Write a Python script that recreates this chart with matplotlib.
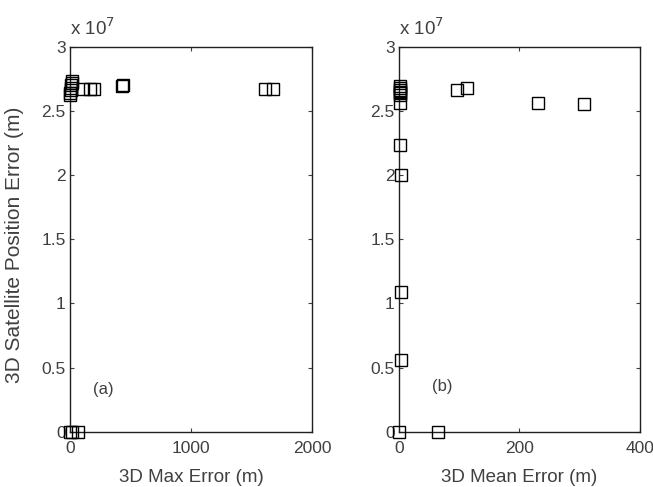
import numpy as np
import matplotlib
matplotlib.use('Agg')
from matplotlib import pyplot as plt
from matplotlib.ticker import FuncFormatter

# === DATA (y values in metres) ===
max_err = [0, 3, 6, 9, 12, 15, 18, 107, 165, 198, 430, 440, 1611, 1678, 0, 20, 70]
max_pos = [2.62e7, 2.64e7, 2.66e7, 2.68e7, 2.70e7, 2.72e7, 2.73e7, 2.67e7, 2.67e7, 2.67e7,
           2.69e7, 2.70e7, 2.67e7, 2.67e7, 0.0, 0.0, 0.0]

mean_err = [2, 2, 2, 2, 2, 2, 2, 2, 3, 3, 4, 0, 64, 96, 113, 230, 307]
mean_pos = [2.56e7, 2.62e7, 2.635e7, 2.65e7, 2.665e7, 2.68e7, 2.695e7, 2.23e7, 2.00e7, 1.09e7,
            0.56e7, 0.0, 0.0, 2.66e7, 2.68e7, 2.56e7, 2.55e7]

x_labels = ['3D Max Error (m)', '3D Mean Error (m)']
x_lims = [(0, 2000), (0, 400)]
x_ticks = [[0, 1000, 2000], [0, 200, 400]]
panel_tags = ['(a)', '(b)']
tag_pos = [(273, 0.33e7), (72, 0.35e7)]

plt.rcParams['font.family'] = ['Liberation Sans', 'DejaVu Sans']
txt_color = '#404040'

fig = plt.figure(figsize=(6.53, 4.87), dpi=100)
ax_a = fig.add_axes([0.1072, 0.1136, 0.3706, 0.7906])
ax_b = fig.add_axes([0.611, 0.1136, 0.369, 0.7906])

series = [(max_err, max_pos), (mean_err, mean_pos)]
for i, ax in enumerate([ax_a, ax_b]):
    xs, ys = series[i]
    ax.plot(xs, ys, linestyle='none', marker='s', markersize=8.5,
            markerfacecolor='none', markeredgecolor='black', markeredgewidth=1.0,
            clip_on=False, zorder=3)

    ax.set_xlim(*x_lims[i])
    ax.set_ylim(0, 3e7)
    ax.set_xticks(x_ticks[i])
    ax.set_yticks(np.arange(0, 3.01e7, 0.5e7))
    ax.yaxis.set_major_formatter(FuncFormatter(lambda v, p: '%g' % (v / 1e7)))

    ax.tick_params(direction='in', top=True, right=True, length=3, width=0.8,
                   labelsize=12.5, colors=txt_color)
    ax.tick_params(axis='x', pad=7)
    ax.tick_params(axis='y', pad=3)
    for sp in ax.spines.values():
        sp.set_linewidth(1.0)
        sp.set_color('#202020')

    ax.set_xlabel(x_labels[i], fontsize=13.5, color=txt_color, labelpad=9)
    ax.text(0.0, 1.02, r'x 10$^7$', transform=ax.transAxes, fontsize=13.5,
            color=txt_color, ha='left', va='bottom')
    ax.text(*tag_pos[i], panel_tags[i], fontsize=12, color=txt_color,
            ha='center', va='center')

ax_a.set_ylabel('3D Satellite Position Error (m)', fontsize=15, color=txt_color)
ax_a.yaxis.set_label_coords(-0.19, 0.485)

fig.savefig('out.png', dpi=100)
